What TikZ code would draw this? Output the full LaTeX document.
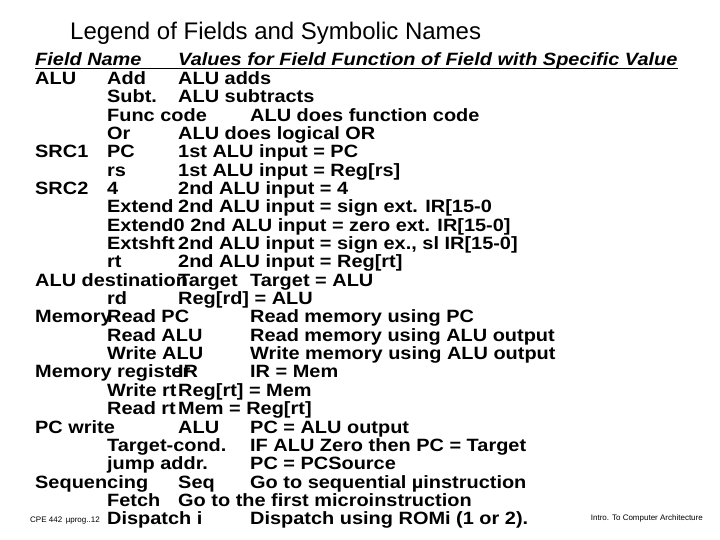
\documentclass[tikz,border=0pt]{standalone}
\usepackage{fontspec}
\setmainfont{Liberation Sans}
\newfontfamily\wide{Liberation Sans}[FakeStretch=1.12]
\begin{document}
\begin{tikzpicture}[x=1pt,y=-1pt,
  t/.style={anchor=base west,inner sep=0pt,font=\wide\fontsize{17.8}{18}\selectfont\bfseries},
  h/.style={t,font=\wide\fontsize{17.8}{18}\selectfont\bfseries\itshape}]
\useasboundingbox (0,0) rectangle (720,540);
\node[anchor=west,inner sep=0pt,font=\fontsize{24}{26}\selectfont] (title) at (70,33) {Legend of Fields and Symbolic Names};
\def\r#1{66+#1*18.35}
\node[h] (h1) at (35,{\r0}) {Field Name};
\node[h] (h2) at (178,{\r0}) {Values for Field\ Function of Field with Specific Value};
\coordinate (ua) at (35,{\r0+2.5});
\draw[line width=0.9pt] (ua) -- (ua -| h2.east);
\node[t] at (35,{\r1}) {ALU};
\node[t] at (107,{\r1}) {Add};
\node[t] at (178,{\r1}) {ALU adds};
\node[t] at (107,{\r2}) {Subt.};
\node[t] at (178,{\r2}) {ALU subtracts};
\node[t] at (107,{\r3}) {Func code};
\node[t] at (250,{\r3}) {ALU does function code};
\node[t] at (107,{\r4}) {Or};
\node[t] at (178,{\r4}) {ALU does logical OR};
\node[t] at (35,{\r5}) {SRC1};
\node[t] at (107,{\r5}) {PC};
\node[t] at (178,{\r5}) {1st ALU input = PC};
\node[t] at (107,{\r6}) {rs};
\node[t] at (178,{\r6}) {1st ALU input = Reg[rs]};
\node[t] at (35,{\r7}) {SRC2};
\node[t] at (107,{\r7}) {4};
\node[t] at (178,{\r7}) {2nd ALU input = 4};
\node[t] at (107,{\r8}) {Extend};
\node[t] at (178,{\r8}) {2nd ALU input = sign ext. IR[15-0};
\node[t] at (107,{\r9}) {Extend0 2nd ALU input = zero ext. IR[15-0]};
\node[t] at (107,{\r{10}}) {Extshft};
\node[t] at (178,{\r{10}}) {2nd ALU input = sign ex., sl IR[15-0]};
\node[t] at (107,{\r{11}}) {rt};
\node[t] at (178,{\r{11}}) {2nd ALU input = Reg[rt]};
\node[t] at (35,{\r{12}}) {ALU destination};
\node[t] at (178,{\r{12}}) {Target};
\node[t] at (250,{\r{12}}) {Target = ALU};
\node[t] at (107,{\r{13}}) {rd};
\node[t] at (178,{\r{13}}) {Reg[rd] = ALU};
\node[t] at (35,{\r{14}}) {Memory};
\node[t] at (107,{\r{14}}) {Read PC};
\node[t] at (250,{\r{14}}) {Read memory using PC};
\node[t] at (107,{\r{15}}) {Read ALU};
\node[t] at (250,{\r{15}}) {Read memory using ALU output};
\node[t] at (107,{\r{16}}) {Write ALU};
\node[t] at (250,{\r{16}}) {Write memory using ALU output};
\node[t] at (35,{\r{17}}) {Memory register};
\node[t] at (178,{\r{17}}) {IR};
\node[t] at (250,{\r{17}}) {IR = Mem};
\node[t] at (107,{\r{18}}) {Write rt};
\node[t] at (178,{\r{18}}) {Reg[rt] = Mem};
\node[t] at (107,{\r{19}}) {Read rt};
\node[t] at (178,{\r{19}}) {Mem = Reg[rt]};
\node[t] at (35,{\r{20}}) {PC write};
\node[t] at (178,{\r{20}}) {ALU};
\node[t] at (250,{\r{20}}) {PC = ALU output};
\node[t] at (107,{\r{21}}) {Target-cond.};
\node[t] at (250,{\r{21}}) {IF ALU Zero then PC = Target};
\node[t] at (107,{\r{22}}) {jump addr.};
\node[t] at (250,{\r{22}}) {PC = PCSource};
\node[t] at (35,{\r{23}}) {Sequencing};
\node[t] at (178,{\r{23}}) {Seq};
\node[t] at (250,{\r{23}}) {Go to sequential µinstruction};
\node[t] at (107,{\r{24}}) {Fetch};
\node[t] at (178,{\r{24}}) {Go to the first microinstruction};
\node[anchor=west,inner sep=0pt,font=\fontsize{8}{9}\selectfont] (foot1) at (30,521) {CPE 442\, µprog..12};
\node[t] at (107,{\r{25}}) {Dispatch i};
\node[t] at (250,{\r{25}}) {Dispatch using ROMi (1 or 2).};
\node[anchor=east,inner sep=0pt,font=\fontsize{8}{9}\selectfont] (foot2) at (703,518) {Intro. To Computer Architecture};
\end{tikzpicture}
\end{document}
